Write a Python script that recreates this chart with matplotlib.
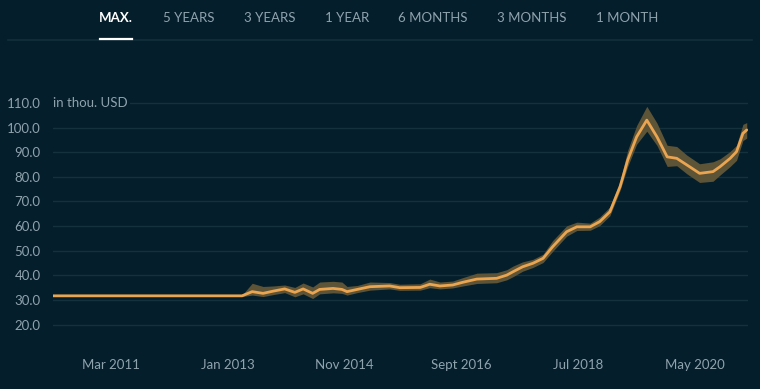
import matplotlib
matplotlib.use("Agg")
import matplotlib.pyplot as plt
from matplotlib.lines import Line2D

# decimal years, values in thou. USD
dates = [2010.25, 2013.22, 2013.38, 2013.55, 2013.71, 2013.89, 2014.05, 2014.18,
         2014.33, 2014.44, 2014.65, 2014.79, 2014.87, 2015.03, 2015.23, 2015.54,
         2015.70, 2016.02, 2016.17, 2016.33, 2016.53, 2016.69, 2016.91, 2017.22,
         2017.38, 2017.48, 2017.63, 2017.79, 2017.95, 2018.10, 2018.32, 2018.48,
         2018.69, 2018.84, 2019.00, 2019.16, 2019.28, 2019.42, 2019.58, 2019.74,
         2019.90, 2020.05, 2020.21, 2020.41, 2020.62, 2020.73, 2020.89, 2020.99,
         2021.09, 2021.15]
price = [31.7, 31.7, 33.4, 32.7, 33.6, 34.5, 33.1, 34.5,
         32.7, 34.3, 34.7, 34.3, 33.4, 34.3, 35.4, 35.7,
         35.0, 35.1, 36.4, 35.7, 36.1, 37.2, 38.5, 38.8,
         40.1, 41.5, 43.5, 44.9, 46.9, 51.6, 57.7, 59.7,
         59.7, 61.8, 65.8, 76.0, 86.8, 96.2, 103.0, 96.2,
         88.1, 87.5, 84.8, 81.4, 82.1, 84.1, 87.5, 90.2,
         97.6, 99.0]
low = [31.4, 31.4, 32.0, 31.4, 32.2, 33.0, 31.3, 32.5,
       30.6, 32.5, 32.9, 32.7, 32.0, 33.0, 34.0, 34.5,
       33.9, 34.0, 35.0, 34.5, 34.9, 35.7, 36.7, 37.0,
       38.2, 39.5, 41.7, 43.2, 45.2, 49.7, 55.9, 58.2,
       58.3, 60.2, 64.2, 74.5, 84.2, 93.2, 98.5, 92.7,
       84.2, 84.5, 81.2, 77.7, 78.2, 80.7, 84.2, 86.7,
       94.7, 95.7]
high = [32.0, 32.0, 36.8, 35.5, 35.7, 36.1, 35.1, 36.9,
        35.3, 37.3, 37.6, 37.3, 35.5, 35.9, 37.3, 37.1,
        36.4, 36.6, 38.5, 37.3, 37.7, 39.1, 40.9, 41.1,
        42.3, 43.8, 45.5, 46.5, 48.6, 54.1, 60.1, 61.6,
        61.2, 63.7, 67.8, 78.3, 90.8, 100.8, 108.6, 101.8,
        92.8, 92.3, 88.8, 85.3, 86.1, 87.3, 90.3, 92.8,
        101.3, 102.0]

tick_pos = [2011 + 2 / 12, 2013.0, 2014 + 10 / 12, 2016 + 8 / 12, 2018.5, 2020 + 4 / 12]
tick_labels = ["Mar 2011", "Jan 2013", "Nov 2014", "Sept 2016", "Jul 2018", "May 2020"]
y_ticks = [20, 30, 40, 50, 60, 70, 80, 90, 100, 110]
tabs = ["MAX.", "5 YEARS", "3 YEARS", "1 YEAR", "6 MONTHS", "3 MONTHS", "1 MONTH"]
tab_x = [116, 189, 270, 347, 433, 532, 627]

bg = "#041e2b"
grid_c = "#15313e"
text_c = "#8fa3ad"
line_c = "#e9a552"
band_c = "#5d5336"

plt.rcParams["font.family"] = ["Lato", "DejaVu Sans"]

W, H = 760, 389
fig = plt.figure(figsize=(W / 100, H / 100), dpi=100, facecolor=bg)

# plot area in pixels: x 53..748, y 95..335
ax = fig.add_axes([53 / W, 1 - 335 / H, (748 - 53) / W, (335 - 95) / H])
ax.set_facecolor(bg)
ax.set_xlim(2010.25, 2021.17)
ax.set_ylim(15.8, 113.2)

for v in y_ticks:
    ax.axhline(v, color=grid_c, lw=1, zorder=0)

ax.fill_between(dates, low, high, color=band_c, lw=0, zorder=2)
ax.plot(dates, price, color=line_c, lw=2.0, solid_capstyle="round",
        solid_joinstyle="round", zorder=3)

ax.set_yticks(y_ticks)
ax.set_yticklabels([f"{v:.1f}" for v in y_ticks])
ax.set_xticks(tick_pos)
ax.set_xticklabels(tick_labels)
ax.tick_params(axis="y", length=0, pad=9, labelsize=9.5, labelcolor=text_c)
ax.tick_params(axis="x", length=0, pad=17, labelsize=9.5, labelcolor=text_c)
for s in ax.spines.values():
    s.set_visible(False)

ax.text(2010.25, 110, "in thou. USD", color=text_c, fontsize=9.5, va="center", ha="left",
        zorder=4, bbox=dict(facecolor=bg, edgecolor="none", pad=1.5))

# range tabs on top
for label, x in zip(tabs, tab_x):
    active = label == "MAX."
    fig.text(x / W, 1 - 18 / H, label, ha="center", va="center", fontsize=9.5,
             color="white" if active else text_c,
             fontweight="bold" if active else "normal")

fig.add_artist(Line2D([8 / W, 752 / W], [1 - 40 / H, 1 - 40 / H],
                      color="#14303c", lw=1.2, transform=fig.transFigure))
fig.add_artist(Line2D([100 / W, 132 / W], [1 - 38.5 / H, 1 - 38.5 / H],
                      color="white", lw=1.6, transform=fig.transFigure))

fig.savefig("out.png", dpi=100, facecolor=bg)
